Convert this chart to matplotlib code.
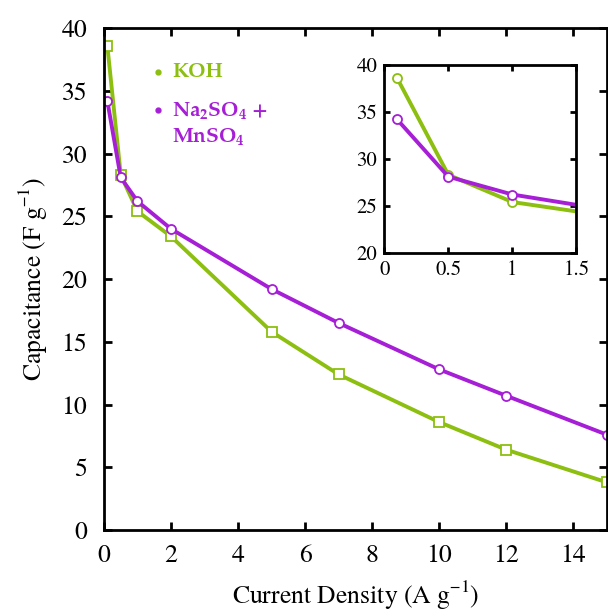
import matplotlib.pyplot as plt

plt.rcParams['font.family'] = ['TeX Gyre Termes', 'Liberation Serif', 'DejaVu Serif']
plt.rcParams['mathtext.fontset'] = 'custom'
plt.rcParams['mathtext.rm'] = 'TeX Gyre Termes'
plt.rcParams['mathtext.bf'] = 'TeX Gyre Pagella:bold'

current = [0.1, 0.5, 1, 2, 5, 7, 10, 12, 15]
koh = [38.6, 28.3, 25.4, 23.4, 15.8, 12.4, 8.6, 6.4, 3.8]
na_mn = [34.2, 28.1, 26.2, 24.0, 19.2, 16.5, 12.8, 10.7, 7.6]

green = '#8cbf10'
purple = '#a61fd6'

fig = plt.figure(figsize=(6.08, 6.12), dpi=100)
ax = fig.add_axes([0.171, 0.134, 0.827, 0.820])

ax.plot(current, koh, color=green, lw=2.8, marker='s', ms=7, mfc='white', mec=green, mew=1.3)
ax.plot(current, na_mn, color=purple, lw=2.8, marker='o', ms=6.5, mfc='white', mec=purple, mew=1.3)

ax.set_xlim(0, 15)
ax.set_ylim(0, 40)
ax.set_xticks(range(0, 15, 2))
ax.set_yticks(range(0, 41, 5))
ax.tick_params(direction='in', length=6, width=2, labelsize=18.5, top=True, right=True)
ax.tick_params(axis='y', pad=12)
ax.tick_params(axis='x', pad=10)
for s in ax.spines.values():
    s.set_linewidth(2)
ax.set_xlabel('Current Density (A g$^{-1}$)', fontsize=18.5, labelpad=8)
ax.set_ylabel('Capacitance (F g$^{-1}$)', fontsize=18.5, labelpad=8)

# legend as text
lg = dict(fontsize=15, fontweight='bold', family=['TeX Gyre Pagella', 'DejaVu Serif'],
          transform=ax.transAxes, va='center')
ax.plot(0.107, 0.912, 'o', ms=3.5, color=green, transform=ax.transAxes)
ax.text(0.135, 0.912, 'KOH', color=green, **lg)
ax.plot(0.107, 0.836, 'o', ms=3.5, color=purple, transform=ax.transAxes)
ax.text(0.135, 0.836, r'Na$_\mathbf{2}$SO$_\mathbf{4}$ +', color=purple, **lg)
ax.text(0.135, 0.783, r'MnSO$_\mathbf{4}$', color=purple, **lg)

# inset
ins = fig.add_axes([0.632, 0.587, 0.316, 0.307])
ins.plot(current, koh, color=green, lw=2.8, marker='o', ms=6.5, mfc='white', mec=green, mew=1.3)
ins.plot(current, na_mn, color=purple, lw=2.8, marker='o', ms=6.5, mfc='white', mec=purple, mew=1.3)
ins.set_xlim(0, 1.5)
ins.set_ylim(20, 40)
ins.set_xticks([0, 0.5, 1, 1.5])
ins.set_xticklabels(['0', '0.5', '1', '1.5'])
ins.set_yticks(range(20, 41, 5))
ins.tick_params(direction='in', length=4, width=2, labelsize=15, top=True, right=True, pad=5)
for s in ins.spines.values():
    s.set_linewidth(2)

fig.savefig('out.png', dpi=100)
